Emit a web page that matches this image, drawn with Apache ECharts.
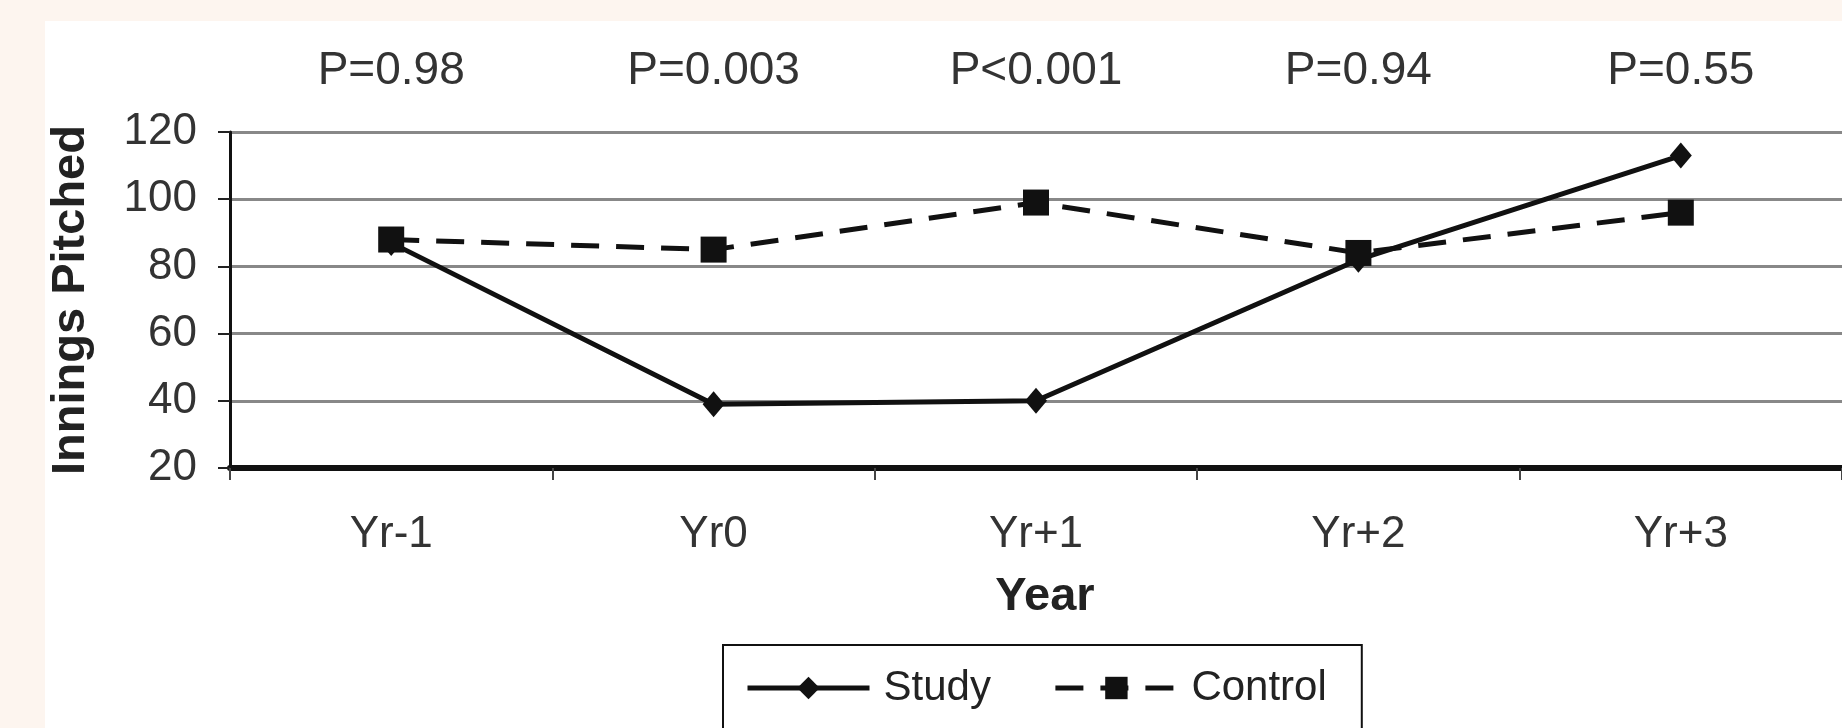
<!DOCTYPE html>
<html>
<head>
<meta charset="utf-8">
<script src="https://cdn.jsdelivr.net/npm/echarts@6/dist/echarts.min.js"></script>
<style>
  html, body { margin: 0; padding: 0; background: #fdf5ef; }
  #panel { position: absolute; left: 45px; top: 21px; width: 1797px; height: 707px; background: #ffffff; }
  #chart { position: absolute; left: 0; top: 0; width: 1842px; height: 728px; }
</style>
</head>
<body>
<div id="panel"></div>
<div id="chart"></div>
<script>
// ---- data ----
const categories = ['Yr-1', 'Yr0', 'Yr+1', 'Yr+2', 'Yr+3'];
const pLabels = ['P=0.98', 'P=0.003', 'P<0.001', 'P=0.94', 'P=0.55'];
const studyValues = [87, 39, 40, 82, 113];
const controlValues = [88, 85, 99, 84, 96];
const yTicks = { min: 20, max: 120, interval: 20 };

const FONT = 'Liberation Sans, Arial, Helvetica, sans-serif';
const chart = echarts.init(document.getElementById('chart'), null, { renderer: 'canvas' });

chart.setOption({
  animation: false,
  grid: { left: 230, top: 132, width: 1622, height: 336, containLabel: false },
  legend: {
    data: ['Study', 'Control'],
    selectedMode: false,
    left: 723,
    top: 645,
    orient: 'horizontal',
    itemWidth: 122,
    itemHeight: 28,
    itemGap: 62,
    borderColor: '#111',
    borderWidth: 2,
    padding: [22, 35, 80, 22],
    lineStyle: { width: 5 },
    textStyle: { fontFamily: FONT, fontSize: 42, color: '#222', padding: [0, 0, 0, 9] }
  },
  xAxis: [
    {
      type: 'category',
      data: categories,
      position: 'bottom',
      boundaryGap: true,
      name: 'Year',
      nameLocation: 'middle',
      nameGap: 106,
      nameTextStyle: { fontFamily: FONT, fontSize: 47, fontWeight: 'bold', color: '#222', padding: [0, 0, 0, 18] },
      axisLine: { show: true, lineStyle: { color: '#111', width: 6 } },
      axisTick: { show: true, length: 12, lineStyle: { color: '#444', width: 2 } },
      axisLabel: { fontFamily: FONT, fontSize: 44, color: '#333', margin: 45 },
      splitLine: { show: false }
    },
    {
      type: 'category',
      data: pLabels,
      position: 'top',
      boundaryGap: true,
      axisLine: { show: false },
      axisTick: { show: false },
      axisLabel: { fontFamily: FONT, fontSize: 46, color: '#333', margin: 38 },
      splitLine: { show: false }
    }
  ],
  yAxis: {
    type: 'value',
    min: yTicks.min,
    max: yTicks.max,
    interval: yTicks.interval,
    name: 'Innings Pitched',
    nameLocation: 'middle',
    nameGap: 135,
    nameRotate: 90,
    nameTextStyle: { fontFamily: FONT, fontSize: 47, fontWeight: 'bold', color: '#222' },
    axisLine: { show: true, lineStyle: { color: '#111', width: 3 } },
    axisTick: { show: true, length: 12, lineStyle: { color: '#222', width: 2 } },
    axisLabel: { fontFamily: FONT, fontSize: 44, color: '#333', margin: 33 },
    splitLine: { show: true, lineStyle: { color: '#888', width: 3 } }
  },
  series: [
    {
      name: 'Study',
      type: 'line',
      xAxisIndex: 0,
      data: studyValues,
      symbol: 'diamond',
      symbolSize: [22, 26],
      itemStyle: { color: '#111' },
      lineStyle: { color: '#111', width: 5, type: 'solid' },
      z: 3
    },
    {
      name: 'Control',
      type: 'line',
      xAxisIndex: 0,
      data: controlValues,
      symbol: 'rect',
      symbolSize: 26,
      itemStyle: { color: '#111' },
      lineStyle: { color: '#111', width: 5, type: [28, 17] },
      z: 4
    }
  ]
});
</script>
</body>
</html>
